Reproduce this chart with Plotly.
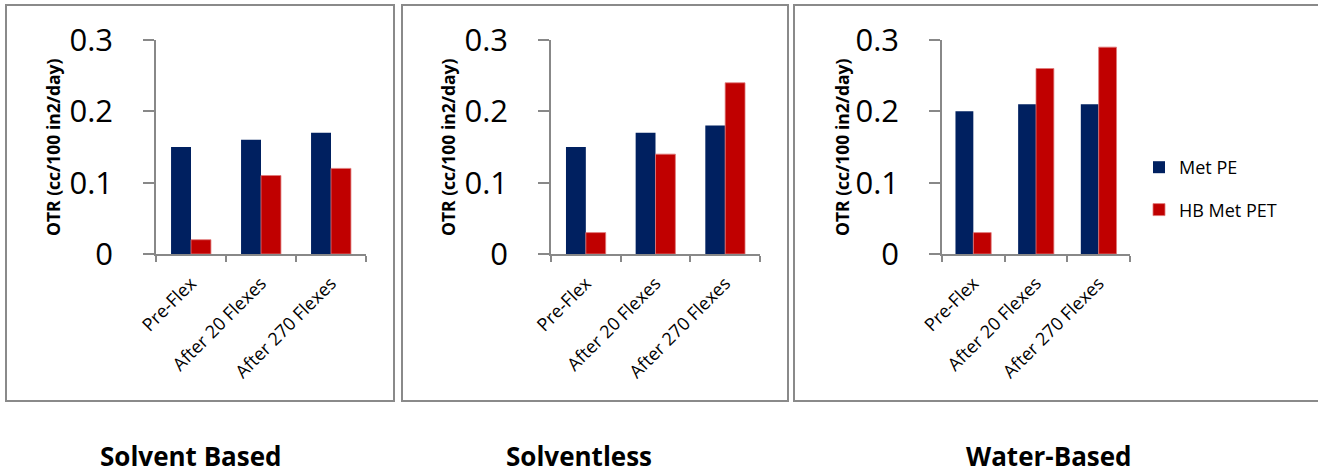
import plotly.graph_objects as go

W, H = 1318, 476

categories = ["Pre-Flex", "After 20 Flexes", "After 270 Flexes"]
panel_titles = ["Solvent Based", "Solventless", "Water-Based"]
series_names = ["Met PE", "HB Met PET"]
met_pe = [
    [0.15, 0.16, 0.17],
    [0.15, 0.17, 0.18],
    [0.20, 0.21, 0.21],
]
hb_met_pet = [
    [0.02, 0.11, 0.12],
    [0.03, 0.14, 0.24],
    [0.03, 0.26, 0.29],
]
y_tick_vals = [0, 0.1, 0.2, 0.3]
y_tick_text = ["0", "0.1", "0.2", "0.3"]
y_title = "OTR (cc/100 in2/day)"

colors = ["#002060", "#C00000"]
FONT = "Open Sans"
AXIS_COLOR = "#888888"


def px_x(p):
    return p / W


def px_y(p):
    return 1 - p / H


# pixel layout of each panel
x_domains_px = [(156, 366), (551, 760), (942, 1130)]
y_domain_px = (254, 40)
boxes_px = [(6, 394), (402, 788), (794, 1340)]
box_top, box_bottom = 5, 401
ytitle_x_px = [53, 448, 842]
title_x_px = [190.5, 579, 1049]

fig = go.Figure()

for i in range(3):
    ax = "" if i == 0 else str(i + 1)
    for s, (vals, name) in enumerate(zip([met_pe[i], hb_met_pet[i]], series_names)):
        fig.add_trace(go.Bar(
            x=categories,
            y=vals,
            name=name,
            marker=dict(color=colors[s],
                        line=dict(width=0.8 if s == 1 else 0,
                                  color="#e07a7a" if s == 1 else colors[s])),
            xaxis="x" + ax,
            yaxis="y" + ax,
            showlegend=(i == 2),
            legendgroup=name,
        ))

layout = dict(
    width=W, height=H,
    margin=dict(l=0, r=0, t=0, b=0, pad=0, autoexpand=False),
    paper_bgcolor="white",
    plot_bgcolor="white",
    barmode="group",
    bargap=0.43,
    bargroupgap=0,
    font=dict(family=FONT, color="black"),
    showlegend=True,
    legend=dict(
        x=px_x(1139), y=px_y(149), xanchor="left", yanchor="top",
        font=dict(size=18, family=FONT, color="black"),
        traceorder="grouped",
        tracegroupgap=16,
        bgcolor="rgba(0,0,0,0)",
    ),
)

for i in range(3):
    ax = "" if i == 0 else str(i + 1)
    x0, x1 = x_domains_px[i]
    layout["xaxis" + ax] = dict(
        domain=[px_x(x0), px_x(x1)],
        anchor="y" + ax,
        type="category",
        range=[-0.5, 2.5],
        showline=True, linecolor=AXIS_COLOR, linewidth=1.5,
        ticks="outside", ticklen=6, tickcolor=AXIS_COLOR, tickwidth=1.5,
        tickson="boundaries",
        tickangle=-45,
        ticklabelstandoff=10,
        tickfont=dict(size=18, family=FONT, color="black"),
        showgrid=False, zeroline=False,
        automargin=False,
        fixedrange=True,
    )
    layout["yaxis" + ax] = dict(
        domain=[px_y(y_domain_px[0]), px_y(y_domain_px[1])],
        anchor="x" + ax,
        range=[0, 0.3],
        tickvals=y_tick_vals,
        ticktext=y_tick_text,
        showline=True, linecolor=AXIS_COLOR, linewidth=1.5,
        ticks="outside", ticklen=11, tickcolor=AXIS_COLOR, tickwidth=1.5,
        ticklabelstandoff=24,
        tickfont=dict(size=31, family=FONT, color="black"),
        showgrid=False, zeroline=False,
        automargin=False,
        fixedrange=True,
    )

fig.update_layout(**layout)

shapes = []
for (bx0, bx1) in boxes_px:
    shapes.append(dict(
        type="rect", xref="paper", yref="paper",
        x0=px_x(bx0), x1=px_x(bx1), y0=px_y(box_bottom), y1=px_y(box_top),
        line=dict(color="#8a8a8a", width=2), fillcolor="rgba(0,0,0,0)",
        layer="below",
    ))

annotations = []
for i in range(3):
    annotations.append(dict(
        text="<b>" + y_title + "</b>", xref="paper", yref="paper",
        x=px_x(ytitle_x_px[i]), y=px_y(147), xanchor="center", yanchor="middle",
        textangle=-90, showarrow=False,
        font=dict(size=17.5, family=FONT, color="black"),
    ))
    annotations.append(dict(
        text="<b>" + panel_titles[i] + "</b>", xref="paper", yref="paper",
        x=px_x(title_x_px[i]), y=px_y(476), xanchor="center", yanchor="bottom",
        showarrow=False,
        font=dict(size=26, family=FONT, color="black"),
    ))

fig.update_layout(shapes=shapes, annotations=annotations)

fig.write_html(
    "out.html",
    config={"displayModeBar": False},
    post_script="document.body.style.margin='0';document.body.style.overflow='hidden';",
)
